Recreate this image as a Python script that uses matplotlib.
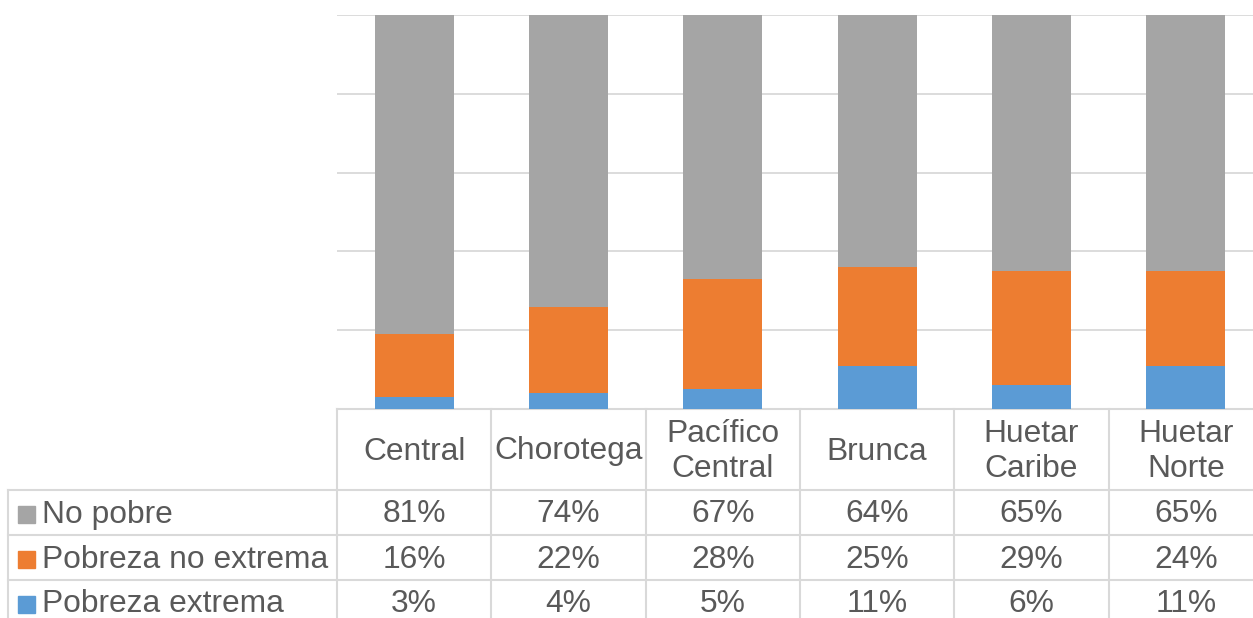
import matplotlib.pyplot as plt
import matplotlib.transforms as mtransforms
from matplotlib.lines import Line2D
from matplotlib.patches import Rectangle

plt.rcParams["font.family"] = ["Liberation Sans", "DejaVu Sans"]

regiones = ["Central", "Chorotega", "Pacífico\nCentral", "Brunca", "Huetar\nCaribe", "Huetar\nNorte"]
pobreza_extrema = [3, 4, 5, 11, 6, 11]
pobreza_no_extrema = [16, 22, 28, 25, 29, 24]
no_pobre = [81, 74, 67, 64, 65, 65]

# series in table order (top to bottom)
series = [
    ("No pobre", no_pobre, "#a5a5a5"),
    ("Pobreza no extrema", pobreza_no_extrema, "#ed7d31"),
    ("Pobreza extrema", pobreza_extrema, "#5b9bd5"),
]

TEXT = "#595959"
GRID = "#d9d9d9"
FS = 22.9

# plot area runs a little past the right edge of the canvas
PLOT_W = 926
fig = plt.figure(figsize=(12.53, 6.18), dpi=100)
ax = fig.add_axes([337 / 1253, 209 / 618, PLOT_W / 1253, 394 / 618])

x = list(range(len(regiones)))
bottom = [0] * len(regiones)
for name, vals, color in reversed(series):
    ax.bar(x, vals, 0.51, bottom=bottom, color=color, zorder=3)
    bottom = [b + v for b, v in zip(bottom, vals)]

ax.set_xlim(-0.5, len(regiones) - 0.5)
ax.set_ylim(0, 100)
ax.set_yticks(range(0, 101, 20))
ax.yaxis.grid(True, color=GRID, linewidth=1.3, zorder=0)
ax.tick_params(left=False, bottom=False, labelleft=False, labelbottom=False)
for s in ax.spines.values():
    s.set_visible(False)

# data table below the plot area: x in data units, y in axes fraction
trans = mtransforms.blended_transform_factory(ax.transData, ax.transAxes)
px = 1 / 394  # one pixel in axes fraction (vertical)
cat_w = PLOT_W / len(regiones)
header_bot = -81 * px
row_h = 45 * px
table_bot = -215 * px
left_edge = -0.5 - 329 / cat_w

def hline(x0, x1, y):
    ax.add_line(Line2D([x0, x1], [y, y], transform=trans, color=GRID,
                       linewidth=1.5, clip_on=False))

def vline(xv, y0, y1):
    ax.add_line(Line2D([xv, xv], [y0, y1], transform=trans, color=GRID,
                       linewidth=1.5, clip_on=False))

hline(-0.5, len(regiones) - 0.5, 0)
for i in range(3):
    hline(left_edge, len(regiones) - 0.5, header_bot - i * row_h)
for i in range(len(regiones) + 1):
    vline(i - 0.5, 0, table_bot)
vline(left_edge, header_bot, table_bot)

for i, reg in enumerate(regiones):
    ax.text(i, header_bot / 2 - 2 * px, reg, transform=trans, ha="center", va="center",
            fontsize=FS, color=TEXT, linespacing=1.22, clip_on=False)

for r, (name, vals, color) in enumerate(series):
    yc = header_bot - (r + 0.5) * row_h - 2 * px
    ax.add_patch(Rectangle((left_edge + 10 / cat_w, yc - 8.5 * px), 17 / cat_w, 17 * px,
                           transform=trans, color=color, clip_on=False))
    ax.text(left_edge + 34 / cat_w, yc, name, transform=trans, ha="left", va="center",
            fontsize=FS, color=TEXT, clip_on=False)
    for i, v in enumerate(vals):
        ax.text(i, yc, f"{v}%", transform=trans, ha="center", va="center",
                fontsize=FS, color=TEXT, clip_on=False)

fig.savefig("out.png", dpi=100)
